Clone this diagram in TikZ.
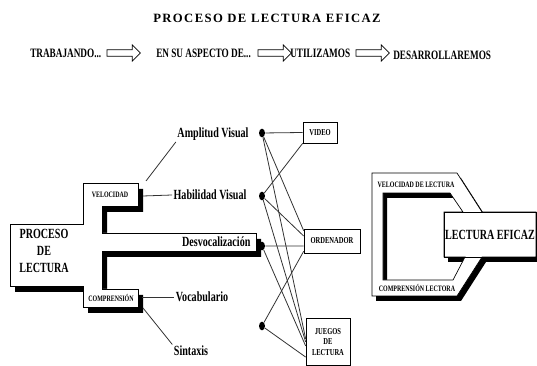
\documentclass[tikz,border=0pt]{standalone}
\usepackage{fontspec}
\setmainfont{Liberation Serif}
\newfontfamily\condfont[FakeStretch=0.72]{Liberation Serif}
\newfontfamily\titlefont[LetterSpace=11]{Liberation Serif}
\usetikzlibrary{shapes.arrows,shapes.geometric}

\begin{document}
\begin{tikzpicture}[x=0.75pt,y=-0.75pt,
  lbl/.style={font=\condfont\bfseries\fontsize{10.5}{12.5}\selectfont, inner sep=1pt},
  hdr/.style={font=\condfont\bfseries\fontsize{9.6}{9.6}\selectfont, inner sep=0pt, anchor=west},
  boxtxt/.style={font=\condfont\bfseries\fontsize{6.2}{7}\selectfont, inner sep=0pt},
  res/.style={draw, line width=0.5pt, align=center, inner sep=1pt, font=\condfont\bfseries\fontsize{6.8}{7.6}\selectfont},
  hollow/.style={single arrow, draw, line width=0.5pt, minimum height=25pt, inner sep=2.2pt, single arrow head extend=3.6pt},
  blob/.style={ellipse, fill=black, minimum width=4.5pt, minimum height=6.5pt, inner sep=0pt},
  link/.style={line width=0.6pt, black!80},
  leftshape/.style={insert path={(10,224) -- (83,224) -- (83,183) -- (138,183) -- (138,206) -- (102,206)
    -- (102,233) -- (256,233) -- (256,251) -- (102,251) -- (102,289) -- (138,289) -- (138,307)
    -- (83,307) -- (83,286) -- (10,286) -- cycle}},
  rightshape/.style={insert path={(372,173) -- (457,173) -- (482,212) -- (536,212) -- (536,257)
    -- (482,257) -- (457,296) -- (372,296) -- cycle
    (383,193) -- (450,193) -- (463,212) -- (444,212) -- (444,257) -- (465,257) -- (453,280)
    -- (383,280) -- cycle}}]
\useasboundingbox (0,0) rectangle (537,366);

\node[font=\titlefont\bfseries\fontsize{9.5}{9.5}\selectfont] (title) at (267,18) {PROCESO\ DE\ LECTURA\ EFICAZ};

\node[hdr] (trab) at (30,53) {TRABAJANDO...};
\node[hollow] (a1) at (122,53) {};
\node[hdr] (asp) at (156,53) {EN SU ASPECTO DE...};
\node[hollow] (a2) at (273,53) {};
\node[hdr] (util) at (290,53) {UTILIZAMOS};
\node[hollow] (a3) at (371,53) {};
\node[hdr] (desa) at (393,55) {DESARROLLAREMOS};

\fill[black, shift={(5,6)}, leftshape];
\filldraw[fill=white, line width=0.5pt, leftshape];
\node[lbl, align=center] (proc) at (44,251) {PROCESO\\DE\\LECTURA};
\node[boxtxt] (vel) at (110,195) {VELOCIDAD};
\node[boxtxt] (comp) at (111,298) {COMPRENSIÓN};
\node[lbl, anchor=east] (desv) at (252,242) {Desvocalización};

\node[lbl] (amp) at (213,134) {Amplitud Visual};
\node[lbl] (hab) at (210,195) {Habilidad Visual};
\node[lbl] (voc) at (202,297) {Vocabulario};
\node[lbl] (sin) at (191,351) {Sintaxis};

\coordinate (v1) at (146,181);
\coordinate (v2) at (143,196);
\coordinate (c1) at (142,297);
\coordinate (c2) at (143,308);
\draw[link] (v1) -- (amp.south west);
\draw[link] (v2) -- (hab.west);
\draw[link] (c1) -- (voc.west);
\draw[link] (c2) -- (sin.north west);

\node[blob] (d1) at (262,133) {};
\node[blob] (d2) at (262,196) {};
\node[blob] (d3) at (262,246) {};
\node[blob] (d4) at (262,326) {};

\node[res, minimum width=25.5pt, minimum height=15.75pt] (vid) at (320,132.5) {VIDEO};
\node[res, minimum width=42pt, minimum height=18pt] (ord) at (332,241) {ORDENADOR};
\node[res, minimum width=33pt, minimum height=35pt] (jue) at (328,342) {JUEGOS\\DE\\LECTURA};

\foreach \a/\b in {d1/vid.west, d1/ord.160, d1/jue.172, d2/vid.south west, d2/ord.170,
  d2/jue.180, d3/ord.190, d3/jue.190, d4/ord.200, d4/jue.214}
  \draw[link] (\a) -- (\b);

\fill[black, shift={(4,5)}, even odd rule, rightshape];
\filldraw[fill=white, even odd rule, line width=0.5pt, rightshape];
\node[draw, line width=0.5pt, minimum width=69pt, minimum height=33.75pt, inner sep=0pt,
  font=\condfont\bfseries\fontsize{10.5}{10.5}\selectfont] (efic) at (490,234.5) {LECTURA EFICAZ};
\node[boxtxt] (vdl) at (416,185) {VELOCIDAD DE LECTURA};
\node[boxtxt] (cpl) at (417,288) {COMPRENSIÓN LECTORA};
\end{tikzpicture}
\end{document}
